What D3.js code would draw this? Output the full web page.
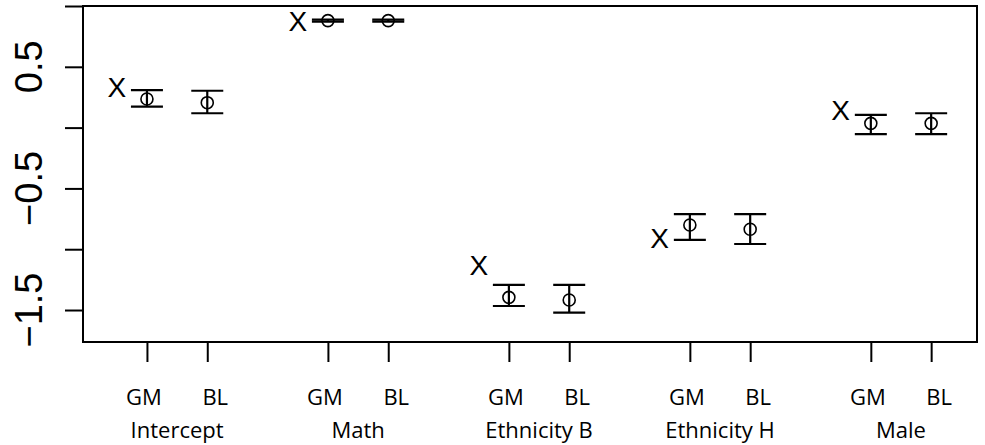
<!DOCTYPE html>
<html>
<head>
<meta charset="utf-8">
<script src="https://cdn.jsdelivr.net/npm/d3@7"></script>
<style>
  html, body { margin: 0; padding: 0; background: #fff; }
  svg { display: block; }
</style>
</head>
<body>
<svg id="chart" width="985" height="445"></svg>
<script>
// ---- data ----
const groups = ["Intercept", "Math", "Ethnicity B", "Ethnicity H", "Male"];
const methods = ["GM", "BL"];
const truth   = [0.334, 0.877, -1.126, -0.904, 0.145];
const gmMean  = [0.235, 0.880, -1.396, -0.801, 0.035];
const gmLower = [0.172, 0.872, -1.467, -0.924, -0.053];
const gmUpper = [0.309, 0.888, -1.294, -0.711, 0.104];
const blMean  = [0.205, 0.880, -1.418, -0.836, 0.035];
const blLower = [0.118, 0.872, -1.522, -0.957, -0.053];
const blUpper = [0.303, 0.888, -1.294, -0.711, 0.118];
const yTicks = [1, 0.5, 0, -0.5, -1, -1.5];
const yTickLabels = ["", "0.5", "", "\u22120.5", "", "\u22121.5"];

(function () {
// ---- layout ----
const pL = 83, pR = 977, pT = 6, pB = 342;
const svg = d3.select("#chart");

const x = d3.scaleLinear().domain([-0.06, 14.76]).range([pL, pR]);
const y = d3.scaleLinear().domain([-1.763, 1.0]).range([pB, pT]);

// positions along x: GM at 1+3i, BL at 2+3i, truth marker at 0.5+3i
const pts = [];
groups.forEach((g, i) => {
  pts.push({g: i, m: methods[0], pos: 1 + 3 * i, mean: gmMean[i], lo: gmLower[i], hi: gmUpper[i]});
  pts.push({g: i, m: methods[1], pos: 2 + 3 * i, mean: blMean[i], lo: blLower[i], hi: blUpper[i]});
});

// box
svg.append("rect")
  .attr("x", pL).attr("y", pT)
  .attr("width", pR - pL).attr("height", pB - pT)
  .attr("fill", "none").attr("stroke", "#000").attr("stroke-width", 2);

// y axis
const yAxis = svg.append("g")
  .attr("transform", `translate(${pL},0)`)
  .call(d3.axisLeft(y).tickValues(yTicks).tickSize(18).tickFormat(""));
yAxis.select(".domain").remove();
yAxis.selectAll(".tick line").attr("stroke", "#000").attr("stroke-width", 2);

svg.append("g").selectAll("text")
  .data(yTicks)
  .join("text")
  .attr("transform", (d) => `translate(42,${y(d)}) rotate(-90)`)
  .attr("text-anchor", "middle")
  .attr("font-family", "'Liberation Sans', Arial, sans-serif")
  .attr("font-size", 38)
  .attr("fill", "#000")
  .text((d, i) => yTickLabels[i]);

// x axis
const xAxis = svg.append("g")
  .attr("transform", `translate(0,${pB})`)
  .call(d3.axisBottom(x).tickValues(pts.map(p => p.pos)).tickSize(20).tickFormat(""));
xAxis.select(".domain").remove();
xAxis.selectAll(".tick line").attr("stroke", "#000").attr("stroke-width", 2);

// method labels
svg.append("g").selectAll("text")
  .data(pts)
  .join("text")
  .attr("x", p => x(p.pos) + (p.m === "GM" ? -3 : 8))
  .attr("y", 405)
  .attr("text-anchor", "middle")
  .attr("font-family", "'Open Sans', sans-serif")
  .attr("font-size", 22)
  .attr("fill", "#000")
  .text(p => p.m);

// group labels
svg.append("g").selectAll("text")
  .data(groups)
  .join("text")
  .attr("x", (g, i) => x(1.5 + 3 * i))
  .attr("y", 438)
  .attr("text-anchor", "middle")
  .attr("font-family", "'Open Sans', sans-serif")
  .attr("font-size", 22)
  .attr("fill", "#000")
  .text(g => g);

// error bars
const cap = 16;
const eb = svg.append("g").attr("stroke", "#000").attr("stroke-width", 2.2).attr("fill", "none");
pts.forEach(p => {
  const cx = x(p.pos);
  eb.append("line").attr("x1", cx).attr("x2", cx).attr("y1", y(p.hi)).attr("y2", y(p.lo));
  eb.append("line").attr("x1", cx - cap).attr("x2", cx + cap).attr("y1", y(p.hi)).attr("y2", y(p.hi));
  eb.append("line").attr("x1", cx - cap).attr("x2", cx + cap).attr("y1", y(p.lo)).attr("y2", y(p.lo));
});

// point estimates (open circles)
svg.append("g").selectAll("circle")
  .data(pts)
  .join("circle")
  .attr("cx", p => x(p.pos))
  .attr("cy", p => y(p.mean))
  .attr("r", 6)
  .attr("fill", "none")
  .attr("stroke", "#000")
  .attr("stroke-width", 1.6);

// true values (X markers)
svg.append("g").selectAll("text")
  .data(truth)
  .join("text")
  .attr("x", (d, i) => x(0.5 + 3 * i))
  .attr("y", d => y(d))
  .attr("dy", "0.36em")
  .attr("text-anchor", "middle")
  .attr("font-family", "'Liberation Sans', Arial, sans-serif")
  .attr("font-size", 28)
  .attr("fill", "#000")
  .text("X");
})();
</script>
</body>
</html>
